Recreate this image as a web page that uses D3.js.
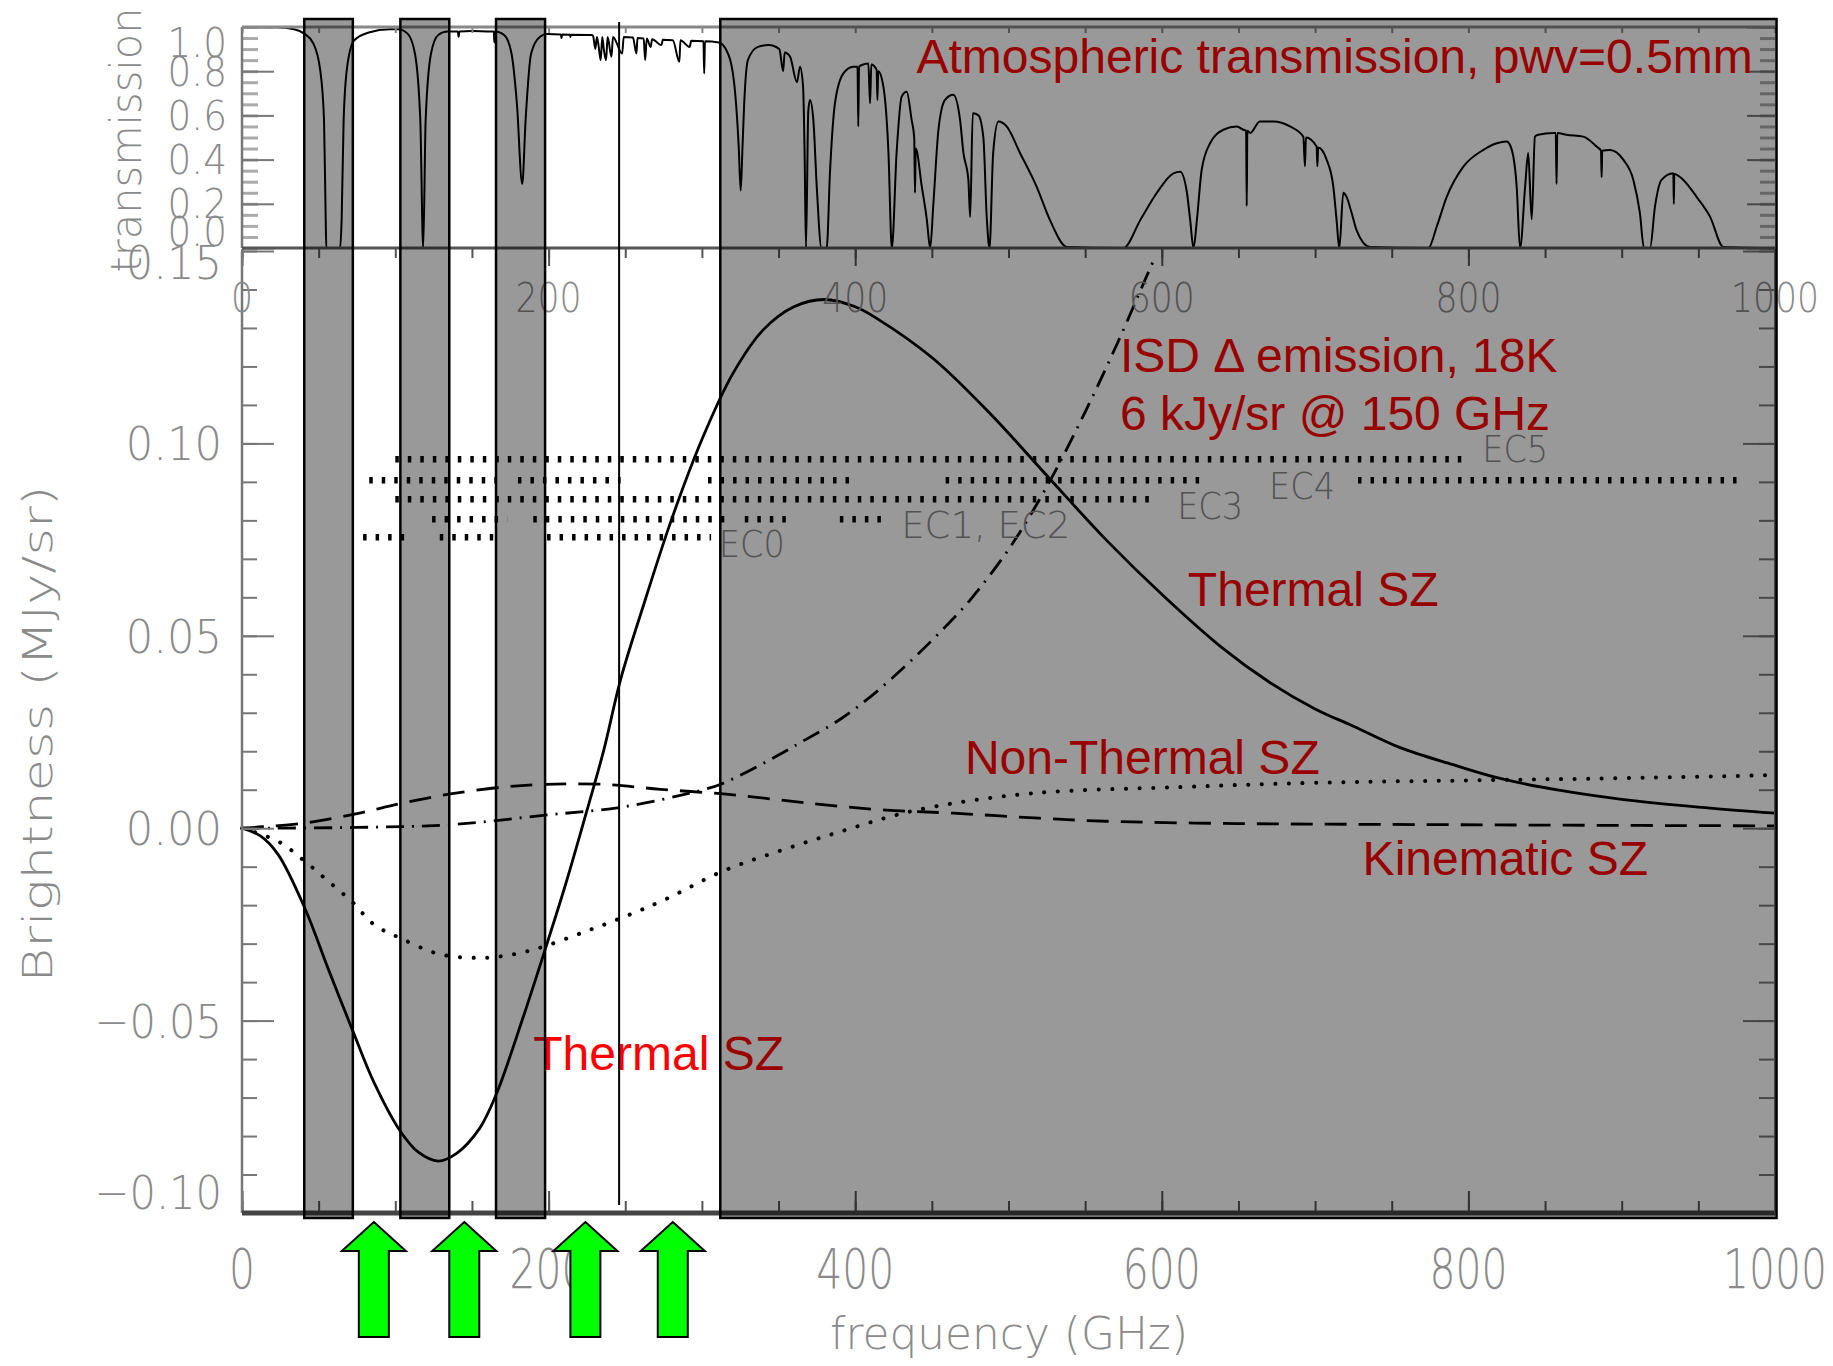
<!DOCTYPE html>
<html lang="en">
<head>
    <meta charset="utf-8">
    <script src="https://d3js.org/d3.v7.min.js"></script>
    <style>
        body { margin: 0; background: #fff; }
        svg { display: block; }
    </style>
</head>
<body>
    <svg></svg>
    <script>
        // shaded frequency bands [from, to] in GHz and the single marker line
        const bands = [[40.6, 72.3], [103.3, 135.2], [165.7, 197.7], [312, 1001]]
        const markerFreq = 246
        const arrowFreqs = [86, 145, 224, 281]

        const freqTicks = [0, 200, 400, 600, 800, 1000]
        const transTicks = [0, 0.2, 0.4, 0.6, 0.8, 1.0]
        const transTickLabels = ['0.0', '0.2', '0.4', '0.6', '0.8', '1.0']
        const brightTicks = [-0.10, -0.05, 0.00, 0.05, 0.10, 0.15]
        const brightTickLabels = ['\u22120.10', '\u22120.05', '0.00', '0.05', '0.10', '0.15']

        // atmospheric transmission, pwv = 0.5 mm  [GHz, transmission]
        const transmission = [
            [9,1.0],[22,0.999],[34,0.99],[40.6,0.97],[46.5,0.926],[51,0.806],[53.5,0.58],[54.6,0.13],[55,0],[64,0],
            [65,0.13],[66.3,0.58],[68.6,0.82],[73.2,0.94],[82.6,0.975],[96.5,0.99],[102,0.99],[108,0.97],[112.8,0.88],
            [116.3,0.58],[118.2,0],[119.8,0.58],[123.3,0.88],[128,0.964],[134,0.98],[140.8,0.98],[141.3,0.956],[141.8,0.98],
            [150,0.982],[162,0.98],[164.3,0.98],[164.6,0.93],[165,0.98],[171,0.964],[175.8,0.88],[179.3,0.655],[182.8,0.29],
            [185,0.58],[188.6,0.88],[194.4,0.956],[199,0.968],[208,0.966],[208.4,0.95],[208.8,0.966],[214,0.965],[214.2,0.955],
            [214.5,0.965],[228,0.964],[229,0.96],[230.5,0.9],[231.5,0.955],[232.5,0.92],[234,0.85],[235,0.955],[236,0.9],
            [237.5,0.85],[238.5,0.955],[241,0.865],[242,0.955],[248,0.88],[249,0.955],[255,0.952],[257.3,0.88],[258,0.95],
            [262,0.948],[263,0.85],[264,0.948],[266.6,0.91],[267.5,0.945],[273.6,0.918],[274.5,0.942],[281,0.94],[285.3,0.843],
            [286,0.94],[292,0.91],[293,0.938],[301,0.935],[301.5,0.79],[302,0.935],[311,0.93],[316,0.895],[320.8,0.76],
            [324,0.46],[325.3,0.26],[326.5,0.46],[327.6,0.655],[330,0.85],[336.5,0.91],[343.5,0.918],[350.5,0.9],[353,0.8],
            [354,0.885],[357.5,0.866],[362,0.75],[364,0.82],[366,0.73],[367,0.43],[367.9,0],[369.4,0.62],[370.5,0.67],
            [372.7,0.58],[374.9,0.28],[378,0],[381.4,0],[383.6,0.35],[386.8,0.655],[392.3,0.79],[398.8,0.82],[401.5,0.82],
            [402,0.55],[402.5,0.82],[404.3,0.828],[408.6,0.835],[409.7,0.655],[410.5,0.83],[414,0.806],[414.5,0.67],[415,0.8],
            [418.4,0.73],[421.7,0.43],[423.9,0],[427,0.43],[430.3,0.685],[433.6,0.707],[436.8,0.58],[438.5,0.5],[439,0.25],
            [439.5,0.45],[443.4,0.28],[446.7,0.13],[448.9,0],[451,0.2],[454.3,0.535],[458.6,0.67],[464,0.693],[468.4,0.58],
            [470.6,0.43],[473.8,0.31],[475,0.14],[476.7,0.61],[480.4,0.6],[483.6,0.5],[485.8,0.14],[487.6,0],[490,0.43],
            [493.4,0.572],[498.8,0.55],[507.5,0.43],[518.4,0.277],[527,0.127],[538,0.005],[575,0],[586,0.127],[596.8,0.25],
            [607.6,0.338],[612,0.345],[616.4,0.25],[618.5,0.127],[620.7,0],[622.9,0.127],[626,0.353],[631.5,0.474],
            [640.2,0.535],[648.9,0.55],[653.2,0.535],[655,0.53],[655.4,0.19],[655.8,0.53],[657.6,0.52],[664,0.572],
            [672.8,0.572],[683.6,0.55],[692.3,0.504],[693.4,0.37],[694,0.5],[701,0.459],[701.5,0.37],[702,0.455],[707.5,0.4],
            [711.9,0.277],[714,0.127],[715.8,0],[718.4,0.25],[720.6,0.23],[723.9,0.157],[727.1,0.08],[735.8,0.005],[773.9,0],
            [779.3,0.096],[785.8,0.23],[796.7,0.368],[809.8,0.444],[818.5,0.474],[825,0.482],[828.3,0.444],[831.5,0.277],
            [833.7,0],[837,0.277],[839,0.43],[841.3,0.13],[843.4,0.504],[845.6,0.512],[855.4,0.52],[857,0.52],[857.5,0.29],
            [858,0.52],[864,0.512],[874.9,0.504],[883.6,0.459],[886.5,0.44],[886.9,0.32],[887.3,0.44],[892.3,0.444],[901,0.4],
            [907.6,0.308],[911.9,0.157],[914.5,0],[918.5,0],[921.7,0.187],[926,0.308],[933.7,0.338],[934,0.2],[934.3,0.335],
            [940.2,0.308],[949,0.23],[957.6,0.142],[966.3,0.005],[1000,0]
        ]

        // brightness spectra (MJy/sr)  [GHz, value]
        const thermalSZ = [
            [0,0],[12,-0.002],[23.5,-0.0068],[41,-0.0208],[56,-0.0363],[72.4,-0.0528],[86,-0.066],[103.5,-0.0789],[115,-0.0842],
            [128,-0.0865],[140,-0.0845],[155,-0.078],[166,-0.069],[183,-0.0496],[198,-0.0312],[211,-0.0147],[223,0.0018],
            [236,0.0203],[247,0.0387],[263,0.0593],[280,0.08],[300,0.101],[320,0.118],[340,0.1295],[360,0.1355],
            [380,0.1374],[400,0.1355],[414,0.1325],[451,0.122],[488.6,0.1075],[526,0.0912],[564,0.0748],[601,0.0604],
            [639,0.047],[670,0.038],[700,0.031],[725,0.0265],[755,0.021],[790,0.0165],[820,0.013],[860,0.0098],
            [900,0.0075],[950,0.0055],[1000,0.0039]
        ]
        const kinematicSZ = [
            [0,0],[40,0.0013],[75,0.0038],[103.5,0.0064],[136,0.0089],[173,0.0108],[198,0.0114],[236,0.0114],[273,0.0101],
            [314,0.0089],[350,0.0074],[382,0.006],[420,0.0047],[464,0.0039],[520,0.0026],[564,0.0018],[650,0.0012],
            [738,0.001],[850,0.0008],[1000,0.0006]
        ]
        const nonThermalSZ = [
            [0,0],[23.5,-0.0034],[41,-0.0086],[56,-0.0137],[72,-0.0192],[86,-0.025],[103.5,-0.0286],[128.5,-0.0327],
            [156,-0.0337],[178,-0.0327],[198,-0.0306],[223,-0.027],[247,-0.0234],[275,-0.0187],[314,-0.0111],[350,-0.006],
            [387,-0.0013],[439,0.0046],[514,0.009],[613,0.0107],[700,0.0118],[815,0.0125],[900,0.013],[1000,0.0138]
        ]
        const isdEmission = [
            [0,0],[75,0.0002],[136,0.0009],[198,0.0034],[248,0.0055],[298,0.0097],[314,0.0117],[350,0.019],[364,0.0222],
            [391,0.0285],[414,0.0355],[439,0.0445],[464,0.0545],[476,0.0598],[501,0.073],[526,0.0895],[551,0.109],
            [571,0.126],[588,0.1415],[594,0.147]
        ]

        // EC coverage rows: level (MJy/sr) and covered ranges (GHz)
        const ecLevels = [0.0959, 0.0904, 0.0855, 0.0803, 0.0756]
        const ecRanges = [
            [[100, 798]],
            [[83, 165], [180, 247], [304, 399], [459, 629], [728, 980]],
            [[100, 596]],
            [[124, 173], [190, 318], [328, 360], [390, 420]],
            [[79, 109], [129, 169], [199, 306]]
        ]
        const ecNames = ['EC0', 'EC1, EC2', 'EC3', 'EC4', 'EC5']
        const ecNameAt = [[311, 0.0704], [430, 0.0754], [610, 0.0803], [670, 0.0855], [809, 0.0951]]

        const W = 1833, H = 1366
        const svg = d3.select('svg').attr('width', W).attr('height', H)
        svg.append('rect').attr('width', W).attr('height', H).attr('fill', '#fff')

        const x = d3.scaleLinear().domain([0, 1000]).range([242, 1775])
        const yT = d3.scaleLinear().domain([0, 1]).range([248, 27])
        const yM = d3.scaleLinear().domain([-0.10, 0.15]).range([1213, 251])

        const GRAY = '#8a8a8a'
        const LABEL_FONT = '"DejaVu Sans", sans-serif'
        const RED_FONT = '"Liberation Sans", Arial, sans-serif'

        // ---------- EC dotted rows ----------
        const ecG = svg.append('g')
        ecRanges.forEach((segs, i) => {
            segs.forEach(s => {
                ecG.append('line')
                    .attr('x1', x(s[0])).attr('x2', x(s[1]))
                    .attr('y1', yM(ecLevels[i])).attr('y2', yM(ecLevels[i]))
                    .attr('stroke', '#000').attr('stroke-width', 6.5)
                    .attr('stroke-dasharray', '3.5 9')
            })
        })

        // ---------- curves ----------
        const mainLine = d3.line().x(d => x(d[0])).y(d => yM(d[1])).curve(d3.curveCatmullRom.alpha(0.5))
        const transLine = d3.line().x(d => x(d[0])).y(d => yT(d[1])).curve(d3.curveMonotoneX)

        svg.append('path').datum(transmission).attr('d', transLine)
            .attr('fill', 'none').attr('stroke', '#000').attr('stroke-width', 2)

        const series = [
            { data: thermalSZ, dash: null, cap: 'butt' },
            { data: kinematicSZ, dash: '22 12', cap: 'butt' },
            { data: nonThermalSZ, dash: '0.1 13.5', cap: 'round' },
            { data: isdEmission, dash: '18 8 2 8', cap: 'butt' }
        ]
        series.forEach(s => {
            svg.append('path').datum(s.data).attr('d', mainLine)
                .attr('fill', 'none').attr('stroke', '#000')
                .attr('stroke-width', s.cap === 'round' ? 4 : 2.8)
                .attr('stroke-linecap', s.cap)
                .attr('stroke-dasharray', s.dash)
        })

        // ---------- axes ----------
        function tickRow(axisFn, scale, values, size, translate, color, width) {
            const g = svg.append('g').attr('transform', translate)
                .call(axisFn(scale).tickValues(values).tickSize(size).tickSizeOuter(0).tickFormat(''))
            g.select('.domain').remove()
            g.selectAll('line').attr('stroke', color).attr('stroke-width', width)
        }
        const f50 = d3.range(0, 1001, 50)
        const t05 = d3.range(0, 1.0001, 0.05)
        const b01 = d3.range(-0.10, 0.1501, 0.01)

        // main panel
        tickRow(d3.axisBottom, x, f50, -12, 'translate(0,1213)', '#555', 2)
        tickRow(d3.axisBottom, x, freqTicks, -22, 'translate(0,1213)', '#555', 2)
        tickRow(d3.axisTop, x, f50, -9, 'translate(0,249)', '#555', 2)
        tickRow(d3.axisTop, x, freqTicks, -17, 'translate(0,249)', '#555', 2)
        tickRow(d3.axisLeft, yM, b01, -15, 'translate(242,0)', '#777', 2)
        tickRow(d3.axisLeft, yM, brightTicks, -32, 'translate(242,0)', '#777', 2)
        tickRow(d3.axisRight, yM, b01, -16, 'translate(1775,0)', '#777', 2)
        tickRow(d3.axisRight, yM, brightTicks, -32, 'translate(1775,0)', '#777', 2)
        // transmission panel
        tickRow(d3.axisTop, x, f50, -6, 'translate(0,27)', '#888', 2)
        tickRow(d3.axisLeft, yT, t05, -16, 'translate(242,0)', '#aaa', 3)
        tickRow(d3.axisLeft, yT, transTicks, -32, 'translate(242,0)', '#777', 2)
        tickRow(d3.axisRight, yT, t05, -15, 'translate(1775,0)', '#aaa', 3)
        tickRow(d3.axisRight, yT, transTicks, -28, 'translate(1775,0)', '#777', 2)

        const frame = [
            [242, 251, 242, 1213, '#777', 2.5],
            [242, 1213, 1775, 1213, '#444', 5],
            [1775, 251, 1775, 1213, '#777', 2],
            [242, 27, 242, 248, '#777', 2.5],
            [242, 27, 1775, 27, '#888', 3],
            [242, 248, 1775, 248, '#555', 3]
        ]
        frame.forEach(f => {
            svg.append('line').attr('x1', f[0]).attr('y1', f[1]).attr('x2', f[2]).attr('y2', f[3])
                .attr('stroke', f[4]).attr('stroke-width', f[5])
        })

        // ---------- gray (IDL style) labels ----------
        function grayText(px, py, str, size, unit, anchor) {
            const len = [...str].reduce((a, c) => a + (c === '.' || c === ',' ? 0.7 : c === ' ' ? 0.5 : c === '\u2212' ? 1.2 : 1), 0) * unit
            return svg.append('text')
                .attr('x', px).attr('y', py).attr('dy', '0.36em')
                .attr('text-anchor', anchor || 'middle')
                .attr('font-family', LABEL_FONT).attr('font-weight', 200)
                .attr('font-size', size).attr('fill', GRAY)
                .attr('textLength', len).attr('lengthAdjust', 'spacingAndGlyphs')
                .text(str)
        }
        freqTicks.forEach(v => grayText(x(v), 1268, String(v), 55, 26))
        freqTicks.forEach(v => grayText(x(v), 297, String(v), 41, 22))
        brightTicks.forEach((v, i) => grayText(222, Math.max(262, Math.min(1192, yM(v))), brightTickLabels[i], 47, 26, 'end'))
        transTicks.forEach((v, i) => grayText(227, Math.max(43, Math.min(232, yT(v))), transTickLabels[i], 40, 22, 'end'))

        ecNames.forEach((n, i) => {
            svg.append('text')
                .attr('x', x(ecNameAt[i][0])).attr('y', yM(ecNameAt[i][1]))
                .attr('font-family', LABEL_FONT).attr('font-weight', 200)
                .attr('font-size', 37).attr('fill', GRAY)
                .attr('textLength', n.length > 3 ? 169 : 66).attr('lengthAdjust', 'spacingAndGlyphs')
                .text(n)
        })

        svg.append('text')
            .attr('transform', 'translate(141,140) rotate(-90)')
            .attr('text-anchor', 'middle').attr('font-family', LABEL_FONT).attr('font-weight', 200)
            .attr('font-size', 42).attr('fill', GRAY)
            .attr('textLength', 265).attr('lengthAdjust', 'spacingAndGlyphs')
            .text('transmission')
        svg.append('text')
            .attr('transform', 'translate(52,734) rotate(-90)')
            .attr('text-anchor', 'middle').attr('font-family', LABEL_FONT).attr('font-weight', 200)
            .attr('font-size', 41).attr('fill', GRAY)
            .attr('textLength', 497).attr('lengthAdjust', 'spacingAndGlyphs')
            .text('Brightness (MJy/sr)')
        svg.append('text')
            .attr('x', 1009).attr('y', 1349)
            .attr('text-anchor', 'middle').attr('font-family', LABEL_FONT).attr('font-weight', 200)
            .attr('font-size', 44).attr('fill', GRAY)
            .attr('textLength', 358).attr('lengthAdjust', 'spacingAndGlyphs')
            .text('frequency (GHz)')

        // ---------- red annotations ----------
        const notes = [
            { text: 'Atmospheric transmission, pwv=0.5mm', f: 440, v: 0.792, panel: 'T' },
            { text: 'ISD \u0394 emission, 18K', f: 572.7, v: 0.1185, panel: 'M' },
            { text: '6 kJy/sr @ 150 GHz', f: 572.7, v: 0.1034, panel: 'M' },
            { text: 'Thermal SZ', f: 617, v: 0.0577, panel: 'M' },
            { text: 'Non-Thermal SZ', f: 471.6, v: 0.014, panel: 'M' },
            { text: 'Kinematic SZ', f: 731, v: -0.0122, panel: 'M' },
            { text: 'Thermal SZ', f: 190, v: -0.0629, panel: 'M' }
        ]
        notes.forEach(n => {
            svg.append('text')
                .attr('x', x(n.f)).attr('y', n.panel === 'T' ? yT(n.v) : yM(n.v))
                .attr('font-family', RED_FONT).attr('font-size', 48).attr('fill', '#ff0000')
                .text(n.text)
        })

        // ---------- marker line and shaded bands ----------
        svg.append('line')
            .attr('x1', x(markerFreq)).attr('x2', x(markerFreq))
            .attr('y1', 22).attr('y2', 1205)
            .attr('stroke', '#000').attr('stroke-width', 2)

        svg.append('g').selectAll('rect').data(bands).enter().append('rect')
            .attr('x', d => x(d[0]))
            .attr('width', d => x(d[1]) - x(d[0]))
            .attr('y', 19).attr('height', 1218 - 19)
            .attr('fill', 'rgba(0,0,0,0.4)')
            .attr('stroke', '#000').attr('stroke-width', 2.5)

        // ---------- green arrows ----------
        svg.append('g').selectAll('path').data(arrowFreqs).enter().append('path')
            .attr('d', f => {
                const c = x(f)
                return `M${c},1222 L${c + 32},1251 L${c + 15},1251 L${c + 15},1337 L${c - 15},1337 L${c - 15},1251 L${c - 32},1251 Z`
            })
            .attr('fill', '#00ff00').attr('stroke', '#000').attr('stroke-width', 2)
            .attr('stroke-linejoin', 'miter')
    </script>
</body>
</html>
